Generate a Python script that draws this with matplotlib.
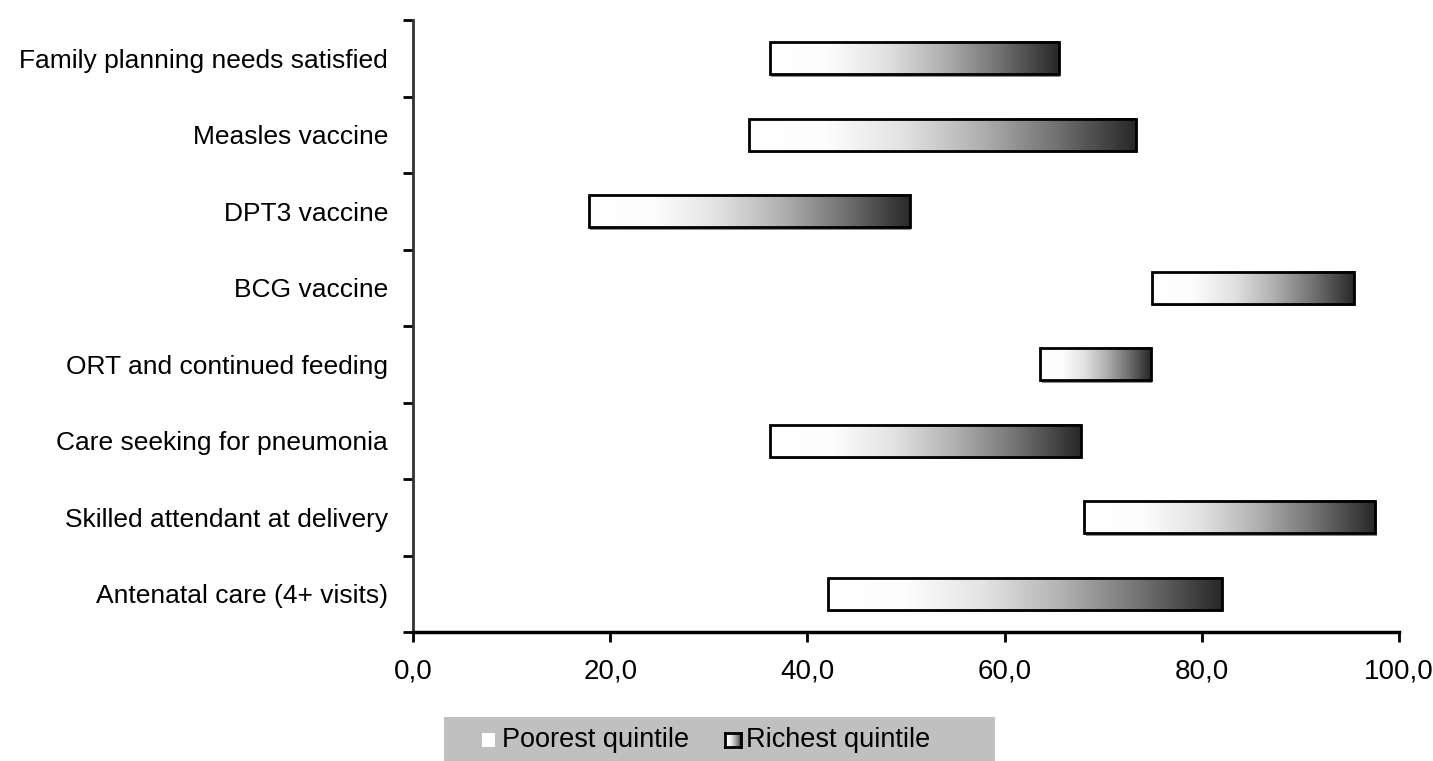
import numpy as np
import matplotlib
matplotlib.use("Agg")
import matplotlib.pyplot as plt
from matplotlib.colors import LinearSegmentedColormap
from matplotlib.patches import Rectangle

plt.rcParams['font.family'] = ['Liberation Sans', 'DejaVu Sans']

categories = ["Antenatal care (4+ visits)", "Skilled attendant at delivery",
              "Care seeking for pneumonia", "ORT and continued feeding",
              "BCG vaccine", "DPT3 vaccine", "Measles vaccine",
              "Family planning needs satisfied"]
poorest = [42.1, 68.1, 36.2, 63.6, 74.9, 17.8, 34.1, 36.2]
richest = [82.0, 97.6, 67.7, 74.8, 95.4, 50.4, 73.3, 65.5]
xticks = [0, 20, 40, 60, 80, 100]
xticklabels = ["0,0", "20,0", "40,0", "60,0", "80,0", "100,0"]
legend_labels = ["Poorest quintile", "Richest quintile"]

W, H = 1433, 761
fig = plt.figure(figsize=(W / 100, H / 100), dpi=100)
ax = fig.add_axes([413 / W, 1 - 632 / H, (1399 - 413) / W, (632 - 20) / H])

cmap = LinearSegmentedColormap.from_list(
    "g", [(0.0, "#ffffff"), (0.2, "#fdfdfd"), (0.4, "#e2e2e2"),
          (0.6, "#b0b0b0"), (0.8, "#707070"), (1.0, "#282828")])
grad = np.linspace(0, 1, 256).reshape(1, -1)

bh = 0.42
for i, (p, r) in enumerate(zip(poorest, richest)):
    ax.add_patch(Rectangle((p + 0.15, i - bh / 2 - 0.03), r - p, bh,
                           facecolor="#8a8a8a", edgecolor="none", zorder=2))
    ax.imshow(grad, cmap=cmap, aspect="auto", extent=(p, r, i - bh / 2, i + bh / 2),
              zorder=3, interpolation="bilinear")
    ax.add_patch(Rectangle((p, i - bh / 2), r - p, bh, facecolor="none",
                           edgecolor="black", linewidth=2.0, zorder=4))

ax.set_xlim(0, 100)
ax.set_ylim(-0.5, len(categories) - 0.5)
ax.set_xticks(xticks)
ax.set_xticklabels(xticklabels, fontsize=20)
ax.set_yticks(np.arange(len(categories)))
ax.set_yticklabels(categories, fontsize=19)
ax.set_yticks(np.arange(len(categories) + 1) - 0.5, minor=True)
ax.tick_params(axis="y", which="major", length=0, pad=18)
ax.tick_params(axis="y", which="minor", length=7, width=2, direction="out")
ax.tick_params(axis="x", which="major", length=7, width=2, direction="out", pad=12)
for s in ["top", "right"]:
    ax.spines[s].set_visible(False)
ax.spines["left"].set_linewidth(2)
ax.spines["left"].set_color("#333333")
ax.spines["bottom"].set_linewidth(2.5)

# legend
fig.patches.append(Rectangle((444 / W, 1 - 761 / H), (995 - 444) / W, (761 - 717) / H,
                             transform=fig.transFigure, facecolor="#c0c0c0",
                             edgecolor="none", zorder=0))
fig.patches.append(Rectangle((482 / W, 1 - 747 / H), 13 / W, 14 / H,
                             transform=fig.transFigure, facecolor="white",
                             edgecolor="none", zorder=1))
fig.text(502 / W, 1 - 740 / H, legend_labels[0], fontsize=19.5, va="center", ha="left")
lax = fig.add_axes([725 / W, 1 - 747 / H, 16 / W, 14 / H], zorder=5)
lax.imshow(grad, cmap=cmap, aspect="auto", extent=(0, 1, 0, 1))
lax.set_xticks([]); lax.set_yticks([])
for s in lax.spines.values():
    s.set_linewidth(2); s.set_color("black")
fig.text(746 / W, 1 - 740 / H, legend_labels[1], fontsize=19.5, va="center", ha="left")

fig.savefig("out.png", dpi=100)
